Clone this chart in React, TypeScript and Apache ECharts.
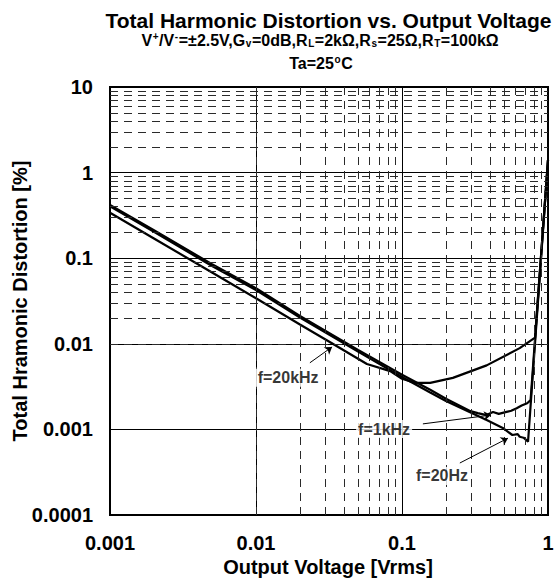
import React, { useEffect, useRef } from "react";
import * as echarts from "echarts";

// ---- tick labels ----
const xTickLabels = ["0.001", "0.01", "0.1", "1"];
const yTickLabels = ["0.0001", "0.001", "0.01", "0.1", "1", "10"];

// ---- minor grid structure ----
const minorMultipliers = [2, 3, 4, 5, 6, 7, 8, 9];
const xDecades = [0.001, 0.01, 0.1];
const yDecades = [0.0001, 0.001, 0.01, 0.1, 1];

// ---- series data: Output Voltage [Vrms] vs THD [%] ----
const voltage20Hz = [0.001, 0.002, 0.005, 0.01, 0.02, 0.05, 0.1, 0.156, 0.2, 0.29, 0.38, 0.49, 0.57, 0.62, 0.64, 0.68, 0.73, 1.0];
const thd20Hz = [0.405, 0.203, 0.081, 0.0425, 0.0203, 0.0081, 0.0041, 0.0027, 0.00215, 0.0016, 0.00129, 0.00104, 0.00086, 0.00088, 0.00082, 0.0008, 0.00072, 1.4];

const voltage1kHz = [0.001, 0.002, 0.005, 0.01, 0.02, 0.05, 0.1, 0.156, 0.2, 0.29, 0.33, 0.38, 0.42, 0.46, 0.52, 0.56, 0.61, 0.66, 0.72, 0.76, 1.0];
const thd1kHz = [0.42, 0.212, 0.085, 0.0445, 0.0212, 0.0085, 0.00435, 0.0029, 0.00228, 0.00165, 0.00155, 0.00147, 0.0016, 0.00152, 0.0016, 0.00165, 0.00177, 0.0019, 0.00202, 0.0022, 1.4];

const voltage20kHz = [0.001, 0.002, 0.005, 0.01, 0.02, 0.032, 0.0575, 0.083, 0.1, 0.123, 0.156, 0.223, 0.38, 0.64, 0.815, 1.0];
const thd20kHz = [0.34, 0.17, 0.068, 0.034, 0.0168, 0.0105, 0.0058, 0.0048, 0.0039, 0.0035, 0.0035, 0.004, 0.0056, 0.0089, 0.0118, 1.4];

// ---- annotations (data coordinates) ----
const annotLabels = ["f=20kHz", "f=1kHz", "f=20Hz"];
const annotLabelPos = [
  [0.0166, 0.004],
  [0.0754, 0.00101],
  [0.188, 0.000286],
];
const arrowFrom = [
  [0.0234, 0.006],
  [0.139, 0.00116],
  [0.249, 0.000405],
];
const arrowTo = [
  [0.0332, 0.0092],
  [0.407, 0.00147],
  [0.532, 0.00079],
];

const FONT = "'Liberation Sans', Arial, Helvetica, sans-serif";

export default function App() {
  const ref = useRef<HTMLDivElement>(null);

  useEffect(() => {
    const chart = echarts.init(ref.current as HTMLDivElement, null, { renderer: "svg" });

    const pair = (xs: number[], ys: number[]) => xs.map((x, i) => [x, ys[i]]);
    const minorX: number[] = [];
    xDecades.forEach((d) => minorMultipliers.forEach((m) => minorX.push(+(d * m).toPrecision(3))));
    const minorY: number[] = [];
    yDecades.forEach((d) => minorMultipliers.forEach((m) => minorY.push(+(d * m).toPrecision(3))));

    const curveStyle = { color: "#000", width: 2.2 };
    const smallTok = {
      fontSize: 10,
      fontWeight: "bold",
      fontFamily: FONT,
      fill: "#000",
      lineHeight: 11,
      padding: [0, 0.6, 0, 0.6],
    };

    chart.setOption({
      animation: false,
      backgroundColor: "#fff",
      grid: {
        left: 110,
        top: 87,
        width: 438,
        height: 428,
        show: true,
        borderColor: "#000",
        borderWidth: 2,
        backgroundColor: "transparent",
        z: 4,
      },
      xAxis: {
        type: "log",
        logBase: 10,
        min: 0.001,
        max: 1,
        splitNumber: 3,
        axisLine: { show: false },
        axisTick: { show: false },
        axisLabel: {
          margin: 18,
          color: "#000",
          fontSize: 20,
          fontWeight: "bold",
          fontFamily: FONT,
          formatter: (v: number) => xTickLabels[Math.round(Math.log10(v)) + 3],
        },
        splitLine: { show: true, lineStyle: { color: "#000", width: 1 } },
      },
      yAxis: {
        type: "log",
        logBase: 10,
        min: 0.0001,
        max: 10,
        splitNumber: 5,
        axisLine: { show: false },
        axisTick: { show: false },
        axisLabel: {
          margin: 17,
          color: "#000",
          fontSize: 20,
          fontWeight: "bold",
          fontFamily: FONT,
          formatter: (v: number) => yTickLabels[Math.round(Math.log10(v)) + 4],
        },
        splitLine: { show: true, lineStyle: { color: "#000", width: 1 } },
      },
      graphic: [
        {
          type: "text",
          x: 328.5,
          y: 20.5,
          style: {
            text: "Total Harmonic Distortion vs. Output Voltage",
            fontSize: 21,
            fontWeight: "bold",
            fontFamily: FONT,
            fill: "#000",
            lineHeight: 19,
            align: "center",
            verticalAlign: "middle",
            textAlign: "center",
            textVerticalAlign: "middle",
          },
        },
        {
          type: "text",
          x: 320,
          y: 40,
          style: {
            text: "V{sup|+}/V{sup|-}=±2.5V,G{sub|v}=0dB,R{sub|L}=2kΩ,R{sub|s}=25Ω,R{sub|T}=100kΩ",
            fontSize: 16,
            fontWeight: "bold",
            fontFamily: FONT,
            fill: "#000",
            lineHeight: 17,
            align: "center",
            verticalAlign: "middle",
            textAlign: "center",
            textVerticalAlign: "middle",
            rich: {
              sup: { ...smallTok, verticalAlign: "top" },
              sub: { ...smallTok, verticalAlign: "bottom" },
            },
          },
        },
        {
          type: "text",
          x: 321,
          y: 63,
          style: {
            text: "Ta=25{sup|o}C",
            fontSize: 16,
            fontWeight: "bold",
            fontFamily: FONT,
            fill: "#000",
            lineHeight: 18,
            align: "center",
            verticalAlign: "middle",
            textAlign: "center",
            textVerticalAlign: "middle",
            rich: {
              sup: { ...smallTok, verticalAlign: "top" },
            },
          },
        },
        {
          type: "text",
          x: 20,
          y: 301,
          rotation: Math.PI / 2,
          style: {
            text: "Total Hramonic Distortion [%]",
            fontSize: 20,
            fontWeight: "bold",
            fontFamily: FONT,
            fill: "#000",
            align: "center",
            verticalAlign: "middle",
            textAlign: "center",
            textVerticalAlign: "middle",
          },
        },
        {
          type: "text",
          x: 328,
          y: 567,
          style: {
            text: "Output Voltage [Vrms]",
            fontSize: 20,
            fontWeight: "bold",
            fontFamily: FONT,
            fill: "#000",
            align: "center",
            verticalAlign: "middle",
            textAlign: "center",
            textVerticalAlign: "middle",
          },
        },
      ],
      series: [
        {
          type: "line",
          name: "minor-grid",
          data: [],
          silent: true,
          z: 1,
          markLine: {
            silent: true,
            symbol: ["none", "none"],
            label: { show: false },
            lineStyle: { color: "#2a2a2a", width: 1, type: [8, 6] },
            emphasis: { disabled: true },
            data: [
              ...minorX.map((v) => ({ xAxis: v })),
              ...minorY.map((v) => ({ yAxis: v })),
            ],
          },
        },
        {
          type: "line",
          name: "f=20Hz",
          data: pair(voltage20Hz, thd20Hz),
          showSymbol: false,
          symbol: "none",
          lineStyle: curveStyle,
          z: 3,
        },
        {
          type: "line",
          name: "f=1kHz",
          data: pair(voltage1kHz, thd1kHz),
          showSymbol: false,
          symbol: "none",
          lineStyle: curveStyle,
          z: 3,
        },
        {
          type: "line",
          name: "f=20kHz",
          data: pair(voltage20kHz, thd20kHz),
          showSymbol: false,
          symbol: "none",
          lineStyle: curveStyle,
          z: 3,
        },
        {
          type: "scatter",
          name: "annotations",
          data: annotLabels.map((t, i) => ({ value: annotLabelPos[i], name: t })),
          symbolSize: 0,
          silent: true,
          z: 5,
          label: {
            show: true,
            position: "inside",
            formatter: "{b}",
            color: "#000",
            fontSize: 16,
            fontWeight: "bold",
            fontFamily: FONT,
            backgroundColor: "#fff",
            padding: [1, 2],
          },
          markLine: {
            silent: true,
            symbol: ["none", "arrow"],
            symbolSize: 7,
            label: { show: false },
            lineStyle: { color: "#000", width: 1, type: "solid" },
            data: arrowFrom.map((f, i) => [{ coord: f }, { coord: arrowTo[i] }]),
          },
        },
      ],
    });

    return () => chart.dispose();
  }, []);

  return (
    <div
      ref={ref}
      style={{ position: "absolute", left: 0, top: 0, width: 559, height: 581, background: "#fff" }}
    />
  );
}
